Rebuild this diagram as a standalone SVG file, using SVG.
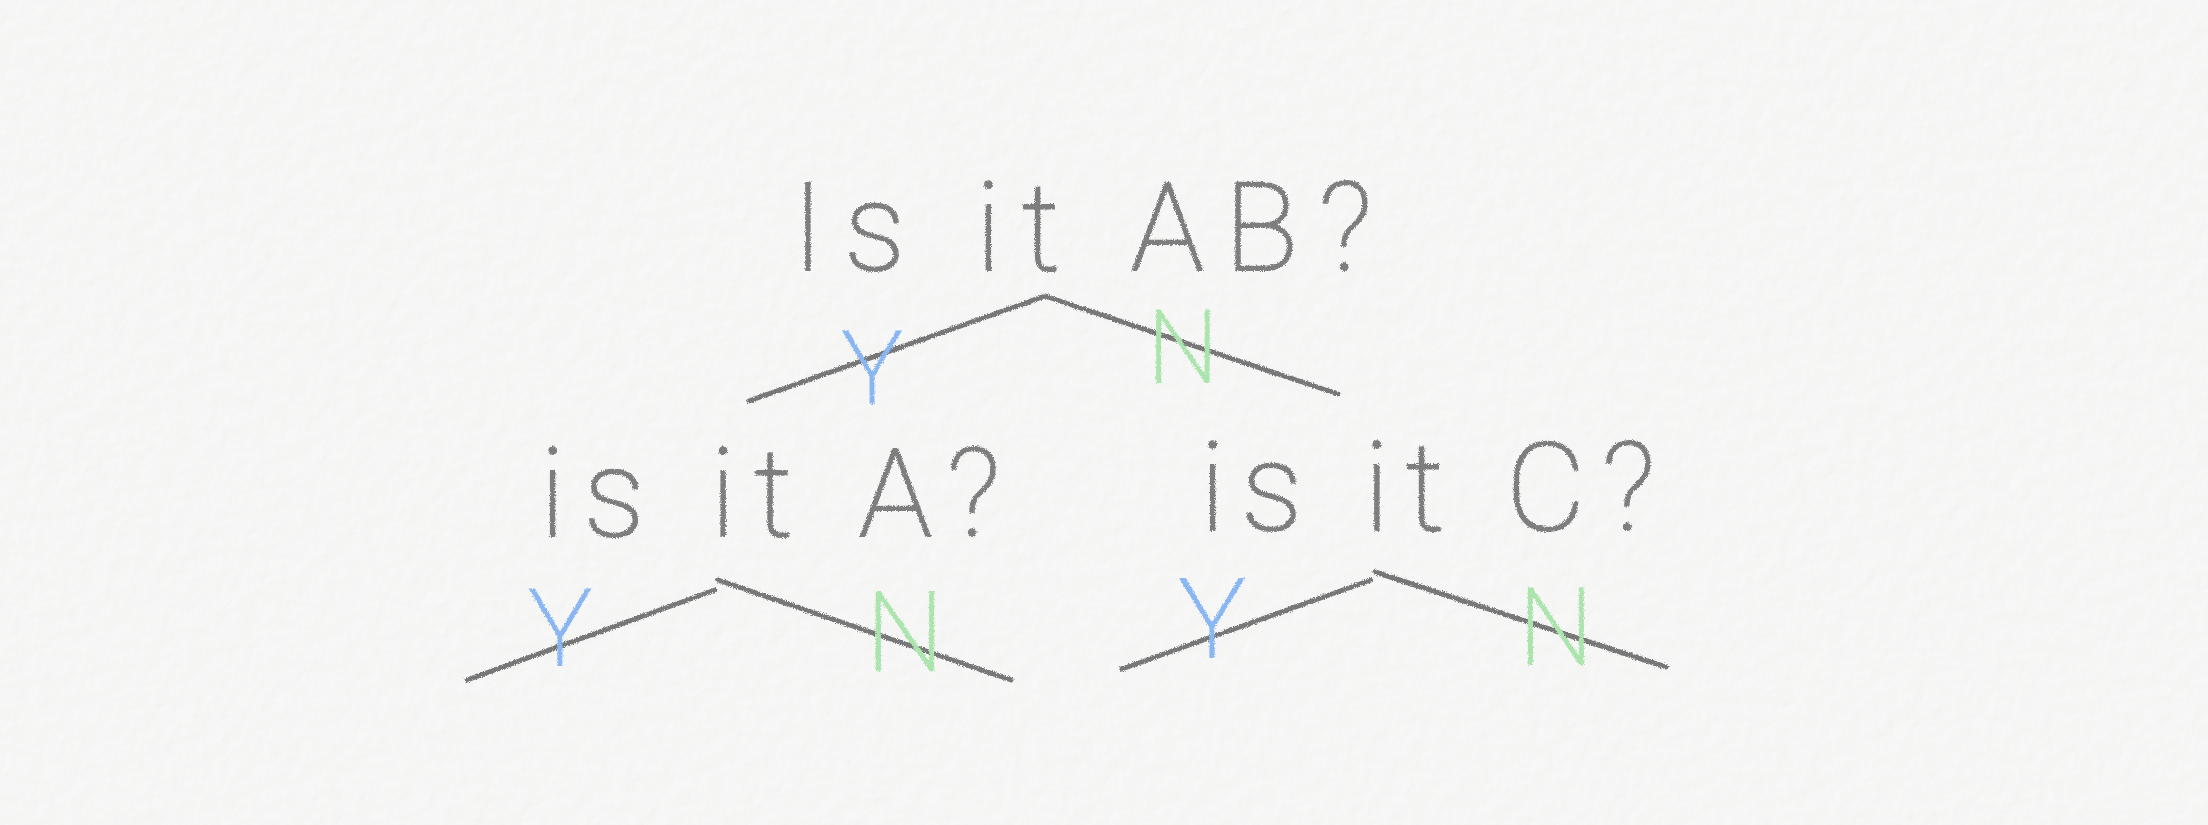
<svg xmlns="http://www.w3.org/2000/svg" width="2208" height="825" viewBox="0 0 2208 825">
  <defs>
    <filter id="paper" filterUnits="userSpaceOnUse" x="0" y="0" width="2208" height="825">
      <feTurbulence type="fractalNoise" baseFrequency="0.06" numOctaves="4" seed="3" result="t"/>
      <feDiffuseLighting in="t" surfaceScale="0.8" lighting-color="#ffffff" result="l">
        <feDistantLight azimuth="45" elevation="70"/>
      </feDiffuseLighting>
      <feComposite in="l" in2="SourceGraphic" operator="in"/>
    </filter>
    <filter id="pencil" filterUnits="userSpaceOnUse" x="0" y="0" width="2208" height="825">
      <feTurbulence type="fractalNoise" baseFrequency="0.9" numOctaves="2" seed="7" result="n"/>
      <feDisplacementMap in="SourceGraphic" in2="n" scale="4" xChannelSelector="R" yChannelSelector="G" result="d"/>
      <feGaussianBlur in="d" stdDeviation="0.7"/>
    </filter>
  </defs>
  <style>
    .q { font-family: Roboto, Inter, "Liberation Sans", sans-serif; font-weight: 100; fill: #7e7e7e; stroke: #7e7e7e; stroke-width: 2.2; }
    .yes { font-family: Roboto, Inter, "Liberation Sans", sans-serif; font-weight: 100; fill: #8ab6f2; stroke: #8ab6f2; stroke-width: 2.2; text-anchor: middle; }
    .no { font-family: Roboto, Inter, "Liberation Sans", sans-serif; font-weight: 100; fill: #ace4ae; stroke: #ace4ae; stroke-width: 2.2; text-anchor: middle; }
    .edge { fill: none; stroke: #777777; stroke-width: 5; stroke-linecap: round; }
  </style>

  <rect width="2208" height="825" fill="#f5f5f4"/>
  <rect width="2208" height="825" fill="#f5f5f4" filter="url(#paper)" opacity="0.45"/>

  <g id="connectors" filter="url(#pencil)">
    <path class="edge" d="M749,401 L1045,296"/>
    <path class="edge" d="M1045,296 L1338,394"/>
    <path class="edge" d="M467,680 L715,590"/>
    <path class="edge" d="M718,580 L1011,680"/>
    <path class="edge" d="M1122,669 L1371,580"/>
    <path class="edge" d="M1375,572 L1666,667"/>
  </g>

  <g id="node-root" filter="url(#pencil)">
    <text class="q" x="792" y="270" font-size="122" textLength="580" lengthAdjust="spacing">Is it AB?</text>
  </g>
  <g id="label-root-yes" filter="url(#pencil)">
    <text class="yes" x="872" y="403" font-size="100">Y</text>
  </g>
  <g id="label-root-no" filter="url(#pencil)">
    <text class="no" x="1183" y="382" font-size="100">N</text>
  </g>

  <g id="node-a" filter="url(#pencil)">
    <text class="q" x="540" y="536" font-size="122" textLength="460" lengthAdjust="spacing">is it A?</text>
  </g>
  <g id="label-a-yes" filter="url(#pencil)">
    <text class="yes" x="560" y="665" font-size="105">Y</text>
  </g>
  <g id="label-a-no" filter="url(#pencil)">
    <text class="no" x="905" y="670" font-size="110">N</text>
  </g>

  <g id="node-c" filter="url(#pencil)">
    <text class="q" x="1200" y="530" font-size="122" textLength="455" lengthAdjust="spacing">is it C?</text>
  </g>
  <g id="label-c-yes" filter="url(#pencil)">
    <text class="yes" x="1212" y="657" font-size="110">Y</text>
  </g>
  <g id="label-c-no" filter="url(#pencil)">
    <text class="no" x="1556" y="664" font-size="105">N</text>
  </g>
</svg>
